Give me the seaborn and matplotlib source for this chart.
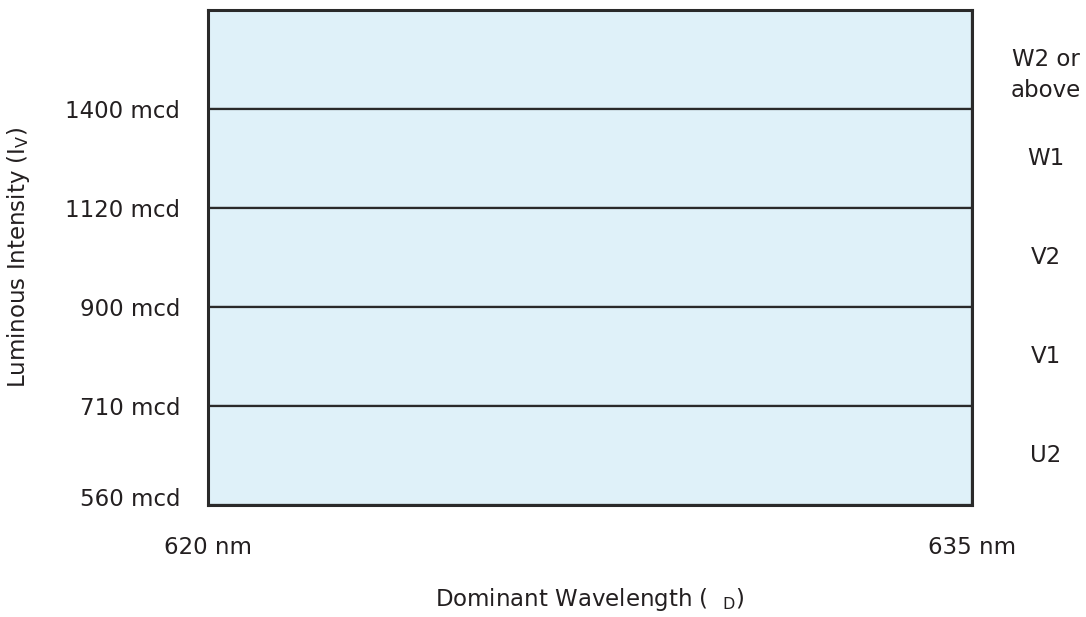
import matplotlib
matplotlib.use("Agg")
import matplotlib.pyplot as plt
import matplotlib.transforms as mtransforms
import seaborn as sns
import pandas as pd

# Data
bins = ["W2 or\nabove", "W1", "V2", "V1", "U2"]          # top to bottom
intensity_bounds = ["1400 mcd", "1120 mcd", "900 mcd", "710 mcd", "560 mcd"]  # lower edge of each bin
wl_min, wl_max = 620, 635
wl_labels = ["620 nm", "635 nm"]

sns.set_theme(style="white")
plt.rcParams["font.family"] = ["DejaVu Sans"]
text_color = "#231f20"
fill = "#dff1f9"
edge = "#2a2a2a"
fs = 16.5

fig = plt.figure(figsize=(10.86, 6.17), dpi=100)
ax = fig.add_axes([208/1086, 1-505/617, (972-208)/1086, (505-10)/617])

df = pd.DataFrame({"bin": bins, "span": [wl_max - wl_min] * len(bins)})
sns.barplot(data=df, y="bin", x="span", order=bins, orient="h", width=1.0,
            color=fill, saturation=1, edgecolor=edge, linewidth=1.6,
            left=wl_min, ax=ax)

ax.set_xlim(wl_min, wl_max)
ax.set_ylim(len(bins) - 0.5, -0.5)

# y ticks at lower boundaries of each bin
ax.set_yticks([i + 0.5 for i in range(len(bins))])
ax.set_yticklabels(intensity_bounds, fontsize=fs, color=text_color)
ax.set_xticks([wl_min, wl_max])
ax.set_xticklabels(wl_labels, fontsize=fs, color=text_color)
ax.tick_params(axis="y", length=0, pad=20)
ax.tick_params(axis="x", length=0, pad=22)

# lift the bottom-most label a little, as in the reference
lbl = ax.get_yticklabels()[-1]
lbl.set_transform(lbl.get_transform() + mtransforms.ScaledTranslation(0, 8/100, fig.dpi_scale_trans))

ax.set_xlabel("Dominant Wavelength (  $_{\\mathregular{D}}$)", fontsize=fs, color=text_color, labelpad=20)
ax.set_ylabel("Luminous Intensity (I$_{\\mathregular{V}}$)", fontsize=fs, color=text_color, labelpad=24)

# bin names on the right (first line centred on the band)
for i, b in enumerate(bins):
    for j, line in enumerate(b.split("\n")):
        ax.annotate(line, xy=(1.097, i), xycoords=ax.get_yaxis_transform(),
                    xytext=(0, -22.5 * j), textcoords="offset points",
                    ha="center", va="center", fontsize=fs, color=text_color)

for s in ax.spines.values():
    s.set_visible(True)
    s.set_color(edge)
    s.set_linewidth(2.2)

fig.savefig("out.png", dpi=100, facecolor="white")
